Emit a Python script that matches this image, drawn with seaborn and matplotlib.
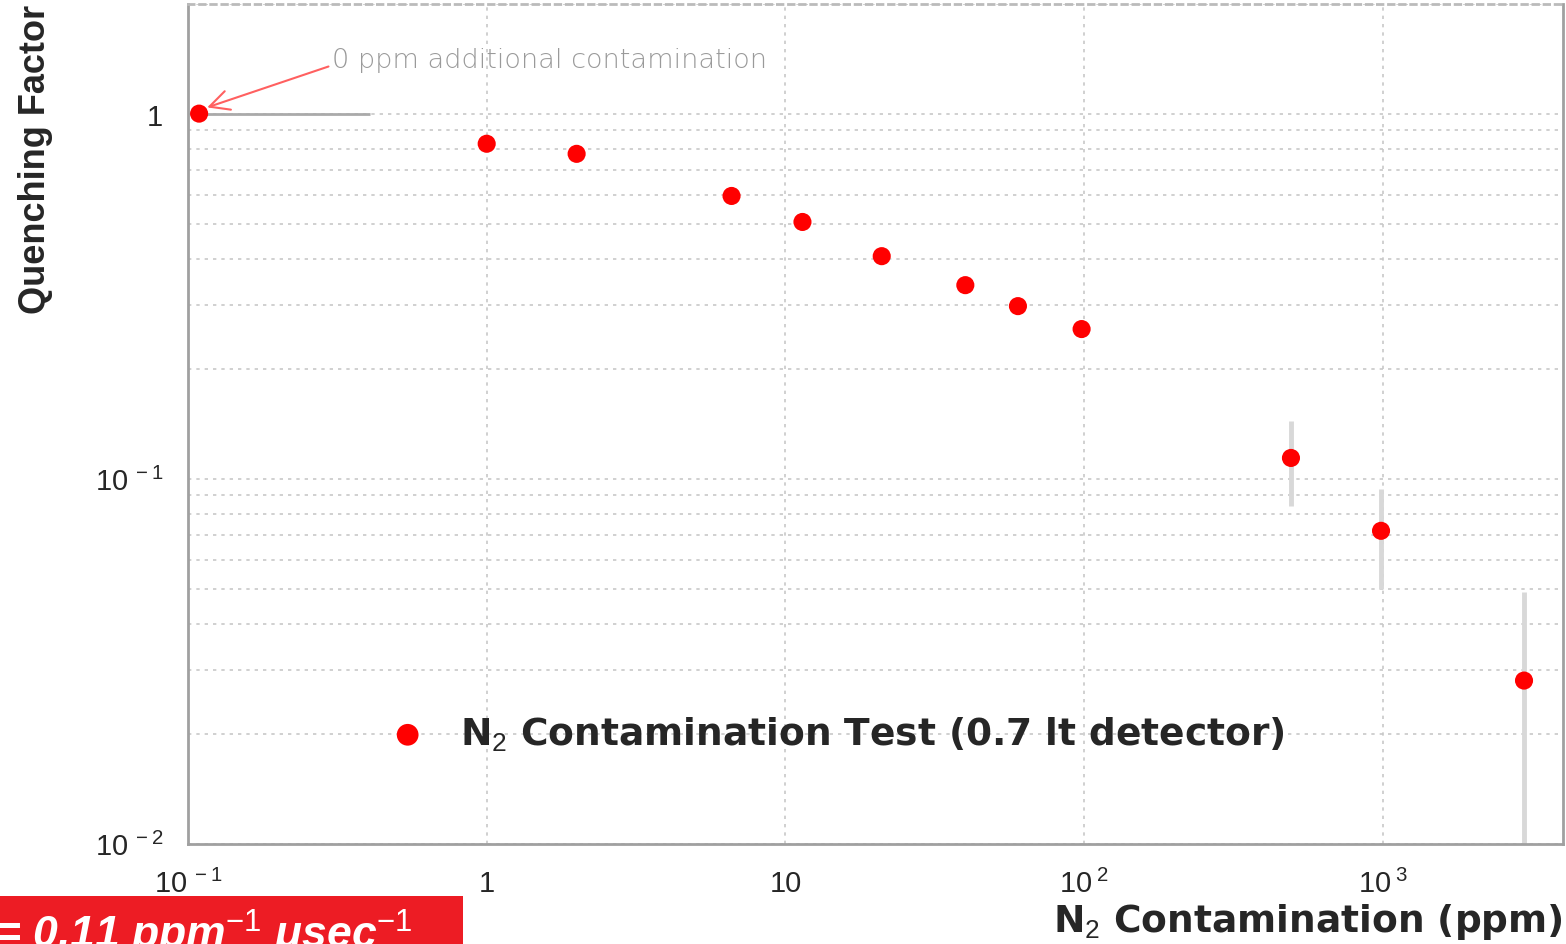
import numpy as np
import pandas as pd
import matplotlib
matplotlib.use('Agg')
import matplotlib.pyplot as plt
import matplotlib.ticker as mticker
from matplotlib.patches import Rectangle
import seaborn as sns

# ─── Data ─────────────────────────────────────────────────────────────────────
n2_ppm = [0.109, 1.0, 2.0, 6.6, 11.4, 21.0, 40.0, 60.0, 98.0, 492.0, 985.0, 2965.0]
quench = [1.0, 0.827, 0.776, 0.595, 0.505, 0.407, 0.339, 0.297, 0.257, 0.114, 0.072, 0.028]
yerr_lo = [0, 0, 0, 0, 0, 0, 0, 0, 0, 0.030, 0.022, 0.023]
yerr_hi = [0, 0, 0, 0, 0, 0, 0, 0, 0, 0.030, 0.022, 0.021]
xerr_hi = [0.297, 0, 0, 0, 0, 0, 0, 0, 0, 0, 0, 0]

x_ticks = [0.1, 1, 10, 100, 1000]
LEGEND_LABEL = r'N$_2$ Contamination Test (0.7 lt detector)'
NOTE_TEXT = '0 ppm additional contamination'
BOX_TEXT = r'= 0.11 ppm$^{-1}$ μsec$^{-1}$'

df = pd.DataFrame({'ppm': n2_ppm, 'qf': quench})

sns.set_style('white')
plt.rcParams['font.family'] = ['Liberation Sans', 'DejaVu Sans']
plt.rcParams['mathtext.fontset'] = 'custom'
plt.rcParams['mathtext.rm'] = 'Liberation Sans'
plt.rcParams['mathtext.it'] = 'Liberation Sans:italic'
plt.rcParams['mathtext.bf'] = 'Liberation Sans:bold'

fig = plt.figure(figsize=(15.66, 9.45), dpi=100)
ax = fig.add_axes([0.120, 0.106, 0.878, 0.889])
ax.set_xscale('log')
ax.set_yscale('log')

# error bars (grey, drawn under the markers)
ax.errorbar(n2_ppm, quench, yerr=[yerr_lo, yerr_hi], fmt='none',
            ecolor='#d8d8d8', elinewidth=3.5, capsize=0, zorder=2)
ax.errorbar(n2_ppm, quench, xerr=[[0] * len(xerr_hi), xerr_hi], fmt='none',
            ecolor='#aaaaaa', elinewidth=2, capsize=0, zorder=2)

sns.scatterplot(data=df, x='ppm', y='qf', ax=ax, color='#ff0000', s=170,
                edgecolor='none', label=LEGEND_LABEL, zorder=3)

ax.set_xlim(0.1, 4000)
ax.set_ylim(0.01, 2.0)

# grid: decades on x, every minor on y
ax.grid(which='major', axis='x', color='#c8c8c8', linestyle=(0, (2, 3)), lw=1.2)
ax.grid(which='both', axis='y', color='#c8c8c8', linestyle=(0, (2, 3)), lw=1.2)
ax.set_axisbelow(True)

def fmt_pow(v, pos):
    e = int(round(np.log10(v)))
    if e == 0:
        return '1'
    if e == 1:
        return '10'
    return r'$\mathregular{10^{\;%d}}$' % e

ax.xaxis.set_major_locator(mticker.FixedLocator(x_ticks))
ax.xaxis.set_major_formatter(mticker.FuncFormatter(fmt_pow))
ax.xaxis.set_minor_locator(mticker.LogLocator(base=10, subs=np.arange(2, 10)))
ax.xaxis.set_minor_formatter(mticker.NullFormatter())
ax.yaxis.set_major_locator(mticker.LogLocator(base=10, numticks=5))
ax.yaxis.set_major_formatter(mticker.FuncFormatter(fmt_pow))
ax.yaxis.set_minor_formatter(mticker.NullFormatter())

ax.tick_params(axis='x', which='major', direction='in', length=12, width=1.5,
               color='#999999', labelsize=21, pad=18)
ax.tick_params(axis='x', which='minor', direction='in', length=9, width=1.2,
               color='#bbbbbb')
ax.tick_params(axis='y', which='both', length=0, labelsize=21, pad=18)

for side, sp in ax.spines.items():
    sp.set_color('#a0a0a0')
    sp.set_linewidth(2)
ax.spines['top'].set_linestyle((0, (2, 2)))
ax.spines['top'].set_color('#bbbbbb')

ax.set_xlabel(r'N$_2$ Contamination (ppm)', fontsize=27, fontweight='bold',
              family=['DejaVu Sans'])
ax.xaxis.set_label_coords(1.0, -0.092)
ax.xaxis.label.set_ha('right')
ax.xaxis.label.set_va('center')
ax.set_ylabel('Quenching Factor', fontsize=26, fontweight='bold')
ax.yaxis.set_label_coords(-0.111, 1.0)
ax.yaxis.label.set_ha('right')
ax.yaxis.label.set_va('center')

# annotation for the zero-contamination point
ax.annotate(NOTE_TEXT, xy=(0.116, 1.04), xytext=(0.303, 1.41),
            fontsize=19.5, color='#9a9a9a', family='DejaVu Sans', weight='light',
            ha='left', va='center',
            arrowprops=dict(arrowstyle='->', color='#ff6060', lw=1.5,
                            mutation_scale=35, shrinkA=0, shrinkB=0,
                            relpos=(0.0, 0.25)))

leg = ax.legend(loc='center left', bbox_to_anchor=(0.108, 0.131), frameon=False,
                markerscale=1.2, handletextpad=0.4,
                prop={'size': 27, 'weight': 'bold', 'family': 'DejaVu Sans'})

# red label box at the bottom left, cut by the figure edge
fig.patches.append(Rectangle((0, 0), 463 / 1566, 48 / 945, transform=fig.transFigure,
                             facecolor='#ed1c24', edgecolor='none', zorder=0))
fig.text(-0.004, -0.004, BOX_TEXT, color='white', fontsize=32, style='italic',
         weight='bold', ha='left', va='baseline')

fig.savefig('out.png', dpi=100)
